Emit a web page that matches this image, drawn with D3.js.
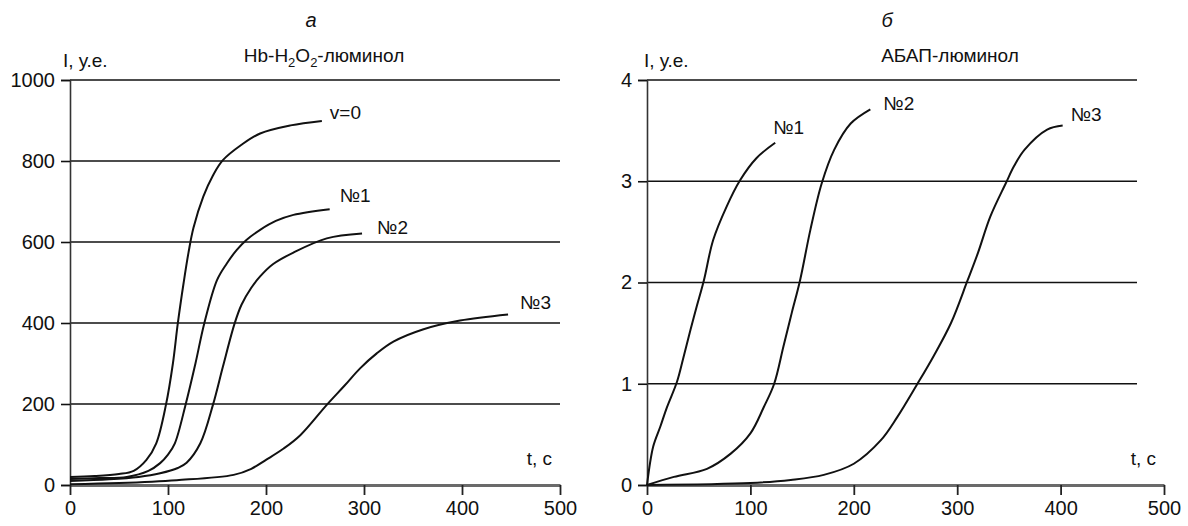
<!DOCTYPE html>
<html>
<head>
<meta charset="utf-8">
<script src="https://cdn.jsdelivr.net/npm/d3@7"></script>
<style>
  body { margin: 0; background: #fff; }
  text { font-family: "Liberation Sans", Arial, sans-serif; fill: #111; }
</style>
</head>
<body>
<div class="chart"></div>
<script>
// chemiluminescence kinetics, two panels

var w = 1188, h = 526;

// panel а: Hb-H2O2-luminol, I (a.u.) vs t (s)
var namesA = ['v=0', '№1', '№2', '№3'];
var v0A = [[0,20],[25,22],[50,27],[65,35],[78,62],[88,103],[98,199],[105,300],[110,399],[116,500],[121,575],[126,635],[136,712],[146,765],[156,802],[175,840],[194,868],[225,888],[257,899]];
var n1A = [[0,15],[30,17],[58,20],[80,35],[92,54],[100,75],[107,103],[118,199],[128,300],[137,399],[150,506],[160,547],[170,580],[180,605],[194,630],[210,652],[228,667],[265,681]];
var n2A = [[0,10],[40,14],[70,20],[92,29],[110,42],[119,55],[133,103],[146,199],[156,292],[168,399],[175,445],[185,487],[194,515],[207,545],[228,574],[262,609],[298,621]];
var n3A = [[0,2],[50,5],[109,12],[167,25],[185,40],[200,62],[218,90],[235,123],[262,198],[280,245],[296,288],[313,325],[330,354],[360,384],[398,406],[447,421]];
var ticksXA = [0,100,200,300,400,500];
var ticksYA = [0,200,400,600,800,1000];

// panel б: ABAP-luminol
var namesB = ['№1', '№2', '№3'];
var n1B = [[0,0],[6,0.38],[13,0.58],[19,0.76],[29,1.02],[35,1.25],[42,1.53],[48,1.76],[55,2.02],[64,2.42],[77,2.75],[90,3.01],[106,3.23],[124,3.38]];
var n2B = [[0,0],[26,0.08],[58,0.16],[81,0.31],[100,0.51],[113,0.77],[123,1.0],[132,1.37],[140,1.7],[148,2.02],[158,2.52],[169,2.98],[181,3.31],[197,3.57],[216,3.71]];
var n3B = [[0,0],[100,0.02],[139,0.05],[171,0.1],[200,0.21],[226,0.44],[242,0.67],[261,0.99],[277,1.27],[294,1.6],[310,2.02],[320,2.29],[332,2.65],[347,2.98],[355,3.15],[365,3.31],[387,3.51],[402,3.55]];
var ticksXB = [0,100,200,300,400,500];
var ticksYB = [0,1,2,3,4];

var svg = d3.select('.chart').append('svg')
  .attr('width', w)
  .attr('height', h);

function panel(opt) {
  var x = d3.scaleLinear().domain([0, 500]).range(opt.xr);
  var y = d3.scaleLinear().domain(opt.yd).range([485, 80]);
  var g = svg.append('g');

  // grid
  g.selectAll('.grid')
    .data(opt.ticksY.filter(function(d) { return d > 0; }))
    .enter().append('line')
      .attr('x1', x(0)).attr('x2', opt.gridEnd)
      .attr('y1', function(d) { return y(d); })
      .attr('y2', function(d) { return y(d); })
      .attr('stroke', '#111').attr('stroke-width', 1.4);

  // y axis
  var ya = g.append('g').attr('transform', 'translate(' + x(0) + ',0)')
    .call(d3.axisLeft(y).tickValues(opt.ticksY).tickFormat(d3.format('d')).tickSize(9).tickPadding(6));
  ya.select('.domain').attr('stroke', '#333').attr('stroke-width', 1.6);
  ya.selectAll('.tick line').attr('stroke', '#111').attr('stroke-width', 1.6);
  ya.selectAll('text').style('font-size', '20px').style('font-family', '"Liberation Sans", Arial, sans-serif').attr('fill', '#111');

  // x axis
  var xa = g.append('g').attr('transform', 'translate(0,' + y(0) + ')')
    .call(d3.axisBottom(x).tickValues(opt.ticksX).tickFormat(d3.format('d')).tickSize(10).tickPadding(6).tickSizeOuter(0));
  xa.select('.domain').attr('stroke', '#6a6a6a').attr('stroke-width', 3);
  xa.selectAll('.tick line').attr('stroke', '#222').attr('stroke-width', 1.8);
  xa.selectAll('text').style('font-size', '20px').style('font-family', '"Liberation Sans", Arial, sans-serif').attr('fill', '#111');

  // curves
  var line = d3.line()
    .x(function(d) { return x(d[0]); })
    .y(function(d) { return y(d[1]); })
    .curve(d3.curveCatmullRom.alpha(0.5));

  opt.series.forEach(function(s, i) {
    g.append('path')
      .attr('d', line(s))
      .attr('fill', 'none')
      .attr('stroke', '#111')
      .attr('stroke-width', 2);
    var last = s[s.length - 1];
    g.append('text')
      .attr('x', x(last[0]) + opt.labelOff[i][0])
      .attr('y', y(last[1]) + opt.labelOff[i][1])
      .attr('dy', '0.35em')
      .style('font-size', '19px')
      .text(opt.names[i]);
  });

  // headers
  g.append('text')
    .attr('x', opt.letterX).attr('y', 27)
    .attr('text-anchor', 'middle')
    .style('font-size', '20px').style('font-style', 'italic')
    .text(opt.letter);
  g.append('text')
    .attr('x', opt.unitX).attr('y', 67)
    .style('font-size', '19px')
    .text('I, у.е.');
  g.append('text')
    .attr('x', x(500) - 8).attr('y', 465)
    .attr('text-anchor', 'end')
    .style('font-size', '19px')
    .text('t, с');
  return g;
}

var gA = panel({
  xr: [70, 560], yd: [0, 1000], gridEnd: 560,
  ticksX: ticksXA, ticksY: ticksYA,
  series: [v0A, n1A, n2A, n3A], names: namesA,
  labelOff: [[8, -9], [10, -14], [15, -6], [12, -12]],
  letter: 'а', letterX: 311, unitX: 63
});

var gB = panel({
  xr: [647, 1164], yd: [0, 4], gridEnd: 1137,
  ticksX: ticksXB, ticksY: ticksYB,
  series: [n1B, n2B, n3B], names: namesB,
  labelOff: [[-2, -15], [13, -6], [8, -11]],
  letter: 'б', letterX: 887, unitX: 644
});

// titles
var tA = gA.append('text')
  .attr('x', 324).attr('y', 62)
  .attr('text-anchor', 'middle')
  .style('font-size', '19px');
tA.append('tspan').text('Hb-H');
tA.append('tspan').attr('dy', 5).style('font-size', '13px').text('2');
tA.append('tspan').attr('dy', -5).text('O');
tA.append('tspan').attr('dy', 5).style('font-size', '13px').text('2');
tA.append('tspan').attr('dy', -5).text('-люминол');

gB.append('text')
  .attr('x', 950).attr('y', 62)
  .attr('text-anchor', 'middle')
  .style('font-size', '19px')
  .text('АБАП-люминол');
</script>
</body>
</html>
